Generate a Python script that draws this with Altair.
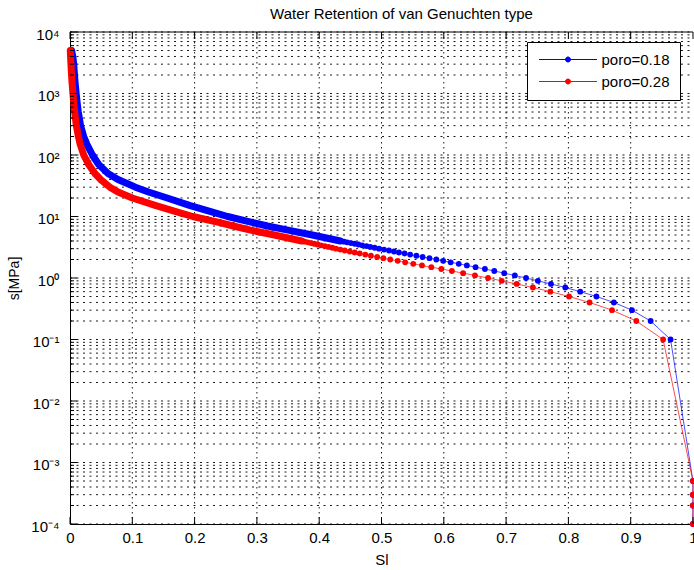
import altair as alt
import pandas as pd

W, H = 623, 492
FONT = "Liberation Sans"

title_text = "Water Retention of van Genuchten type"
x_title = "Sl"
y_title = "s[MPa]"
series_names = ["poro=0.18", "poro=0.28"]
series_colors = ["#0000ff", "#ff0000"]

x_tick_values = [0, 0.1, 0.2, 0.3, 0.4, 0.5, 0.6, 0.7, 0.8, 0.9, 1.0]
y_decades = [1e-4, 1e-3, 1e-2, 1e-1, 1, 10, 100, 1000, 10000]
y_tick_labels = ["10⁻⁴", "10⁻³", "10⁻²", "10⁻¹", "10⁰", "10¹", "10²", "10³", "10⁴"]
y_minor = [k * d for d in y_decades[:-1] for k in range(2, 10)]

# suction values (MPa) where the markers are distinguishable (shared by both curves)
s_sparse = [0.0001, 0.0002, 0.0003, 0.0005,
            0.1, 0.2, 0.3, 0.4, 0.5, 0.6, 0.7, 0.8, 0.9, 1.0,
            1.1, 1.2, 1.3, 1.4, 1.5, 1.6, 1.7, 1.8, 1.9, 2.0,
            2.1, 2.2, 2.3, 2.4, 2.5, 2.6, 2.7, 2.8, 2.9, 3.0,
            3.1, 3.2, 3.3, 3.4, 3.5, 3.6, 3.7, 3.8, 3.9, 4.0]
sl_sparse_018 = [0.9999, 0.9999, 0.9999, 0.9999,
                 0.964, 0.932, 0.902, 0.873, 0.845, 0.819, 0.795, 0.772, 0.751, 0.732,
                 0.714, 0.697, 0.681, 0.666, 0.651, 0.637, 0.624, 0.611, 0.599, 0.588,
                 0.577, 0.566, 0.556, 0.546, 0.537, 0.528, 0.520, 0.512, 0.504, 0.496,
                 0.489, 0.482, 0.476, 0.469, 0.463, 0.457, 0.451, 0.445, 0.440, 0.434]
sl_sparse_028 = [0.9999, 0.9999, 0.9999, 0.9999,
                 0.952, 0.909, 0.870, 0.834, 0.801, 0.771, 0.743, 0.717, 0.693, 0.671,
                 0.650, 0.631, 0.613, 0.596, 0.580, 0.565, 0.551, 0.538, 0.526, 0.514,
                 0.503, 0.493, 0.483, 0.474, 0.465, 0.457, 0.449, 0.441, 0.434, 0.427,
                 0.421, 0.415, 0.409, 0.403, 0.397, 0.392, 0.387, 0.382, 0.377, 0.372]

# dense part of the curves (markers merge into a thick band)
s_dense = [4, 5, 6, 7, 8, 10, 12, 15, 20, 25, 30, 40, 50, 70, 100, 150, 200,
           300, 500, 700, 1000, 1500, 2000, 3000, 4000, 5000]
sl_dense_018 = [0.434, 0.389, 0.350, 0.317, 0.292, 0.253, 0.226, 0.193, 0.156, 0.126,
                0.105, 0.077, 0.061, 0.046, 0.036, 0.027, 0.022, 0.017, 0.0133, 0.0115,
                0.0099, 0.0082, 0.0072, 0.0060, 0.0045, 0.0025]
sl_dense_028 = [0.372, 0.328, 0.290, 0.262, 0.239, 0.197, 0.170, 0.138, 0.100, 0.077,
                0.064, 0.049, 0.040, 0.030, 0.022, 0.0163, 0.0135, 0.0102, 0.0075, 0.0060,
                0.0047, 0.0033, 0.0025, 0.0015, 0.0009, 0.0005]

rows = []
for name, sl_sp, sl_dn in [(series_names[0], sl_sparse_018, sl_dense_018),
                           (series_names[1], sl_sparse_028, sl_dense_028)]:
    for s, sl in zip(s_sparse, sl_sp):
        rows.append({"series": name, "Sl": sl, "s": s, "kind": "marker"})
    for s, sl in zip(s_dense, sl_dn):
        rows.append({"series": name, "Sl": sl, "s": s, "kind": "band"})
df = pd.DataFrame(rows)

xscale = alt.Scale(domain=[0, 1], nice=False, zero=False)
yscale = alt.Scale(type="log", domain=[1e-4, 1e4], nice=False)
cscale = alt.Scale(domain=series_names, range=series_colors)

label_expr = "[" + ",".join("'%s'" % t for t in y_tick_labels) + "][round(log(datum.value)/LN10)+4]"

x_axis = alt.Axis(values=x_tick_values, format="~g", grid=False, ticks=False,
                  domainColor="#000", domainWidth=1, labelFont=FONT, labelFontSize=15,
                  labelColor="#000", labelPadding=6, labelFlush=False, labelOverlap=False,
                  title=x_title, titleFont=FONT, titleFontSize=15, titleFontWeight="normal",
                  titleColor="#000", titleY=35, titleBaseline="middle")
y_axis = alt.Axis(values=y_decades, labelExpr=label_expr, grid=False, ticks=False,
                  domainColor="#000", domainWidth=1, labelFont=FONT, labelFontSize=15,
                  labelColor="#000", labelPadding=11, labelFlush=False, labelOverlap=False,
                  labelBaseline="middle", labelOffset=2,
                  title=y_title, titleFont=FONT, titleFontSize=14, titleFontWeight="normal",
                  titleColor="#000", titleX=-56, titleY=H / 2, titleAngle=270,
                  titleBaseline="middle", titleAlign="center")

# grid
grid_h = alt.Chart(pd.DataFrame({"v": y_minor + y_decades})).mark_rule(
    color="#000", strokeWidth=1, strokeDash=[2, 4.5], opacity=0.9
).encode(y=alt.Y("v:Q", scale=yscale, axis=y_axis), x=alt.value(0), x2=alt.value(W))
grid_v = alt.Chart(pd.DataFrame({"v": x_tick_values[1:-1]})).mark_rule(
    color="#000", strokeWidth=1, strokeDash=[1.5, 3.5], opacity=0.9
).encode(x=alt.X("v:Q", scale=xscale, axis=x_axis), y=alt.value(0), y2=alt.value(H))

legend_path = ("M-4.83,0L4.83,0"
               "M-0.42,0A0.42,0.42,0,1,0,0.42,0A0.42,0.42,0,1,0,-0.42,0"
               "M-0.3,0A0.3,0.3,0,1,0,0.3,0A0.3,0.3,0,1,0,-0.3,0"
               "M-0.18,0A0.18,0.18,0,1,0,0.18,0A0.18,0.18,0,1,0,-0.18,0"
               "M-0.06,0A0.06,0.06,0,1,0,0.06,0A0.06,0.06,0,1,0,-0.06,0")
legend = alt.Legend(title=None, orient="none", legendX=457, legendY=10,
                    direction="vertical", symbolType=legend_path, symbolSize=144,
                    symbolStrokeWidth=1, symbolOffset=23.5, symbolOpacity=1,
                    labelOffset=26, labelFont=FONT, labelFontSize=15, labelColor="#000",
                    padding=10, rowPadding=6, fillColor="#ffffff", strokeColor="#000",
                    cornerRadius=0)

base = alt.Chart(df)
x_enc = alt.X("Sl:Q", scale=xscale, axis=x_axis)
y_enc = alt.Y("s:Q", scale=yscale, axis=y_axis)

line_thin = base.mark_line(strokeWidth=1, opacity=0.7).encode(
    x=x_enc, y=y_enc,
    stroke=alt.Stroke("series:N", scale=cscale, legend=legend),
    order=alt.Order("s:Q"))
band = base.transform_filter(alt.datum.kind == "band").mark_line(
    strokeWidth=7, strokeCap="round", strokeJoin="round").encode(
    x=x_enc, y=y_enc,
    stroke=alt.Stroke("series:N", scale=cscale, legend=None),
    order=alt.Order("s:Q"))
pts = base.transform_filter(alt.datum.kind == "marker").mark_circle(
    size=34, opacity=1).encode(
    x=x_enc, y=y_enc,
    fill=alt.Fill("series:N", scale=cscale, legend=None))

# inward ticks and top frame
tick_bottom = alt.Chart(pd.DataFrame({"v": x_tick_values})).mark_rule(color="#000").encode(
    x=alt.X("v:Q", scale=xscale, axis=x_axis), y=alt.value(H - 7), y2=alt.value(H))
tick_top = alt.Chart(pd.DataFrame({"v": x_tick_values})).mark_rule(color="#000").encode(
    x=alt.X("v:Q", scale=xscale, axis=x_axis), y=alt.value(0), y2=alt.value(7))
tick_left = alt.Chart(pd.DataFrame({"v": y_decades})).mark_rule(color="#000").encode(
    y=alt.Y("v:Q", scale=yscale, axis=y_axis), x=alt.value(0), x2=alt.value(7))
tick_left_minor = alt.Chart(pd.DataFrame({"v": y_minor})).mark_rule(color="#000").encode(
    y=alt.Y("v:Q", scale=yscale, axis=y_axis), x=alt.value(0), x2=alt.value(4))
top_frame = alt.Chart(pd.DataFrame({"v": [0]})).mark_rule(color="#000").encode(
    x=alt.value(0), x2=alt.value(W), y=alt.value(0))

chart = alt.layer(
    grid_h, grid_v, line_thin, band, pts,
    tick_bottom, tick_top, tick_left, tick_left_minor, top_frame
).properties(
    width=W, height=H,
    title=alt.TitleParams(text=title_text, font=FONT, fontSize=15, fontWeight="normal",
                          color="#000", anchor="middle", dx=20, dy=18, offset=8,
                          baseline="bottom", frame="group"),
    padding={"left": 70, "top": 32, "right": 1, "bottom": 46},
    autosize=alt.AutoSizeParams(type="none"),
).configure_view(stroke=None)

chart.save("out.html", embed_options={"renderer": "svg", "actions": False})
